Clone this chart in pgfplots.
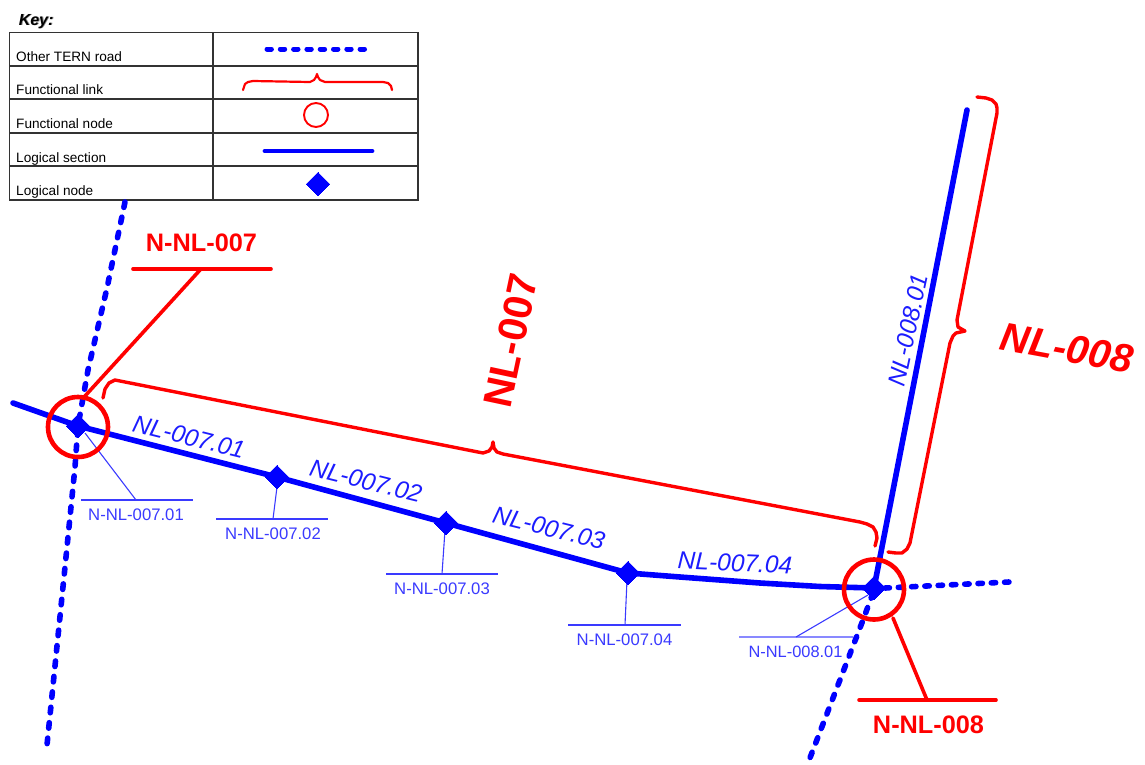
\documentclass[border=0pt]{standalone}
\usepackage{fontspec}
\setmainfont{Liberation Sans}
\usepackage{pgfplots}
\pgfplotsset{compat=1.18}
\definecolor{roadblue}{HTML}{0000FF}
\definecolor{linkred}{HTML}{FF0000}
\definecolor{labelblue}{HTML}{1C1CFF}
\definecolor{thinblue}{HTML}{3A3AFF}
\definecolor{keygrey}{HTML}{333333}
\newcommand{\fs}[1]{\fontsize{#1}{#1}\selectfont}
\tikzset{
  road/.style={roadblue,line width=5.6pt,line cap=round,dash pattern=on 5.5pt off 10pt},
  shortroad/.style={road,dash pattern=on 4.4pt off 8.9pt},
  section/.style={roadblue,line width=5.6pt,line cap=round,line join=round},
  brace/.style={linkred,line width=3.4pt,line cap=round,line join=round},
  leader/.style={linkred,line width=3.6pt,line cap=round},
  thin/.style={thinblue,line width=1.1pt},
  keyline/.style={keygrey,line width=1.7pt,line cap=rect},
  node/.style={only marks,mark=square*,mark size=8.2pt,mark options={rotate=45,fill=roadblue,draw=roadblue,line width=0pt}},
  ring/.style={linkred,only marks,mark=o},
}
\begin{document}
\begin{tikzpicture}
\begin{axis}[
    anchor=south west,at={(0,0)},
    width=1145pt,height=764pt,scale only axis,
    xmin=0,xmax=1145,ymin=0,ymax=764,y dir=reverse,
    hide axis,clip=false,
  ]
  % key table
  \addplot[keyline] coordinates {(9.5,32.5)(418,32.5)(418,200)(9.5,200)(9.5,32.5)};
  \addplot[keyline] coordinates {(213,32.5)(213,200)};
  \addplot[keyline] coordinates {(9.5,66)(418,66)};
  \addplot[keyline] coordinates {(9.5,99)(418,99)};
  \addplot[keyline] coordinates {(9.5,133)(418,133)};
  \addplot[keyline] coordinates {(9.5,166)(418,166)};
  % key symbols
  \addplot[shortroad,line width=5pt] coordinates {(267,49)(367,49)};
  \addplot[brace,line width=2.2pt] coordinates {(243,90)(245,84)(248,82)(253,81)(310,82)(314,80)(316,77)(317,74)(318,77)(320,80)(325,82)(383,82)(388,83)(391,86)(392,90)};
  \addplot[ring,mark size=12pt,mark options={color=linkred,line width=1.9pt}] coordinates {(316,115)};
  \addplot[section,line width=4.8pt] coordinates {(265,151)(372,151)};
  \addplot[node] coordinates {(318,184)};

  % other TERN roads
  \addplot[road] coordinates {(125,202)(107,288)(88,370)(78,426)(75,467)(65,567)(47,745)};
  \addplot[shortroad] coordinates {(885,588)(1009,582)};
  \addplot[road] coordinates {(873,593)(863,620)(808,763)};

  % logical sections
  \addplot[section] coordinates {(13,403)(78,426)(277,477)(446,523)(628,573)(680,577)(760,583)(820,586.5)(874,588)};
  \addplot[section] coordinates {(874,588)(967,110)};

  % logical node leaders
  \addplot[thin] coordinates {(81,500)(193,500)};
  \addplot[thin] coordinates {(85,433)(136,500)};
  \addplot[thin] coordinates {(216,519)(328,519)};
  \addplot[thin] coordinates {(277,487)(273,519)};
  \addplot[thin] coordinates {(386,574)(498,574)};
  \addplot[thin] coordinates {(445,530)(442,574)};
  \addplot[thin] coordinates {(568,625)(681,625)};
  \addplot[thin] coordinates {(627,580)(625,625)};
  \addplot[thin,opacity=0.6] coordinates {(739,637)(853,637)};
  \addplot[thin] coordinates {(868,595)(796,637)};

  % logical nodes
  \addplot[node] coordinates {(78,426)(277,477)(446,523)(628,573)(874,588)};

  % functional links
  \addplot[brace] coordinates {(103,398)(105,389)(109,383)(115,380)(483,453)(489,451)(492,447)(493,442)(494,448)(497,452)(503,454)(860,522)(867,524)(873,527)(876,532)(877,538)(875,546)};
  \addplot[brace] coordinates {(977,97)(986,98)(992,100)(996,104)(997,108)(997,113)(957,320)(958,327)(965,331)(956,333)(953,336)(950,343)(912,533)(910,543)(907,549)(902,553)(896,553)(888,552)};

  % functional nodes
  \addplot[ring,mark size=30pt,mark options={color=linkred,line width=4.6pt}] coordinates {(78,427)(874,589.5)};
  \addplot[leader] coordinates {(133,269)(271,269)};
  \addplot[leader] coordinates {(200,270)(85,396)};
  \addplot[leader] coordinates {(859,700)(996,700)};
  \addplot[leader] coordinates {(893,618)(927,700)};

  % key text
  \node[anchor=base west,inner sep=0pt,text=black!45] at (axis cs:19.6,25.6) {\fs{16}\bfseries\itshape Key:};
  \node[anchor=base west,inner sep=0pt,text=black] at (axis cs:18.6,25) {\fs{16}\bfseries\itshape Key:};
  \node[anchor=base west,inner sep=0pt] at (axis cs:16,61) {\fs{13.6}Other TERN road};
  \node[anchor=base west,inner sep=0pt] at (axis cs:16,94) {\fs{13.6}Functional link};
  \node[anchor=base west,inner sep=0pt] at (axis cs:16,128) {\fs{13.6}Functional node};
  \node[anchor=base west,inner sep=0pt] at (axis cs:16,162) {\fs{13.6}Logical section};
  \node[anchor=base west,inner sep=0pt] at (axis cs:16,195) {\fs{13.6}Logical node};

  % functional labels
  \node[text=linkred] at (axis cs:201.5,243) {\fs{25.3}\bfseries N-NL-007};
  \node[text=linkred] at (axis cs:928.5,725) {\fs{25.3}\bfseries N-NL-008};
  \node[text=linkred,rotate=78] at (axis cs:511,341) {\fs{40.5}\bfseries NL-007};
  \node[text=linkred,rotate=-10.5] at (axis cs:1067,348) {\fs{40}\bfseries\itshape NL-008};

  % section labels
  \node[text=labelblue,rotate=-14] at (axis cs:189,437) {\fs{24.5}\itshape NL-007.01};
  \node[text=labelblue,rotate=-14] at (axis cs:366,481) {\fs{24.5}\itshape NL-007.02};
  \node[text=labelblue,rotate=-14] at (axis cs:549,528) {\fs{24.5}\itshape NL-007.03};
  \node[text=labelblue,rotate=-2.5] at (axis cs:735,563) {\fs{24.5}\itshape NL-007.04};
  \node[text=labelblue,rotate=78] at (axis cs:908,330) {\fs{24.5}\itshape NL-008.01};

  % node labels
  \node[text=thinblue] at (axis cs:136,515) {\fs{16.7}N-NL-007.01};
  \node[text=thinblue] at (axis cs:273,534) {\fs{16.7}N-NL-007.02};
  \node[text=thinblue] at (axis cs:442,589) {\fs{16.7}N-NL-007.03};
  \node[text=thinblue] at (axis cs:624.5,640) {\fs{16.7}N-NL-007.04};
  \node[text=thinblue] at (axis cs:795.5,652) {\fs{16.4}N-NL-008.01};
\end{axis}
\pgfresetboundingbox
\path[use as bounding box] (0,0) rectangle (1145pt,764pt);
\end{tikzpicture}
\end{document}
